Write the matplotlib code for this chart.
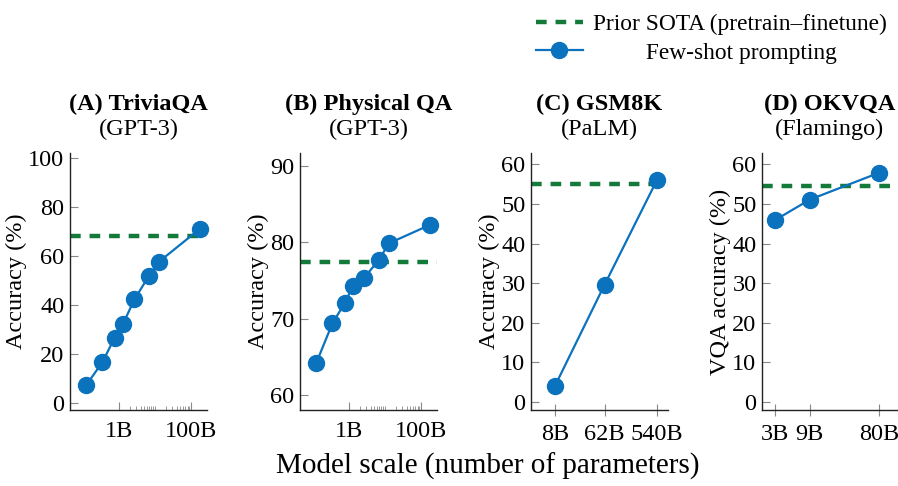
import matplotlib
matplotlib.use("Agg")
import matplotlib.pyplot as plt
from matplotlib.ticker import FixedLocator, NullFormatter

plt.rcParams['font.family'] = ['Liberation Serif', 'DejaVu Serif']
plt.rcParams['mathtext.fontset'] = 'stix'

# model sizes in billions of parameters
gpt3_sizes = [0.125, 0.35, 0.76, 1.3, 2.7, 6.7, 13, 175]
palm_sizes = [8, 62, 540]
flamingo_sizes = [3, 9, 80]

triviaqa_acc = [7.2, 16.6, 26.5, 32.2, 42.2, 51.7, 57.6, 71.0]
triviaqa_sota = 68.0
physqa_acc = [64.2, 69.4, 72.0, 74.3, 75.4, 77.7, 79.9, 82.3]
physqa_sota = 77.5
gsm8k_acc = [4.0, 29.6, 56.1]
gsm8k_sota = 55.1
okvqa_acc = [45.9, 51.1, 57.9]
okvqa_sota = 54.6

titles = ["(A) TriviaQA", "(B) Physical QA", "(C) GSM8K", "(D) OKVQA"]
subtitles = ["(GPT-3)", "(GPT-3)", "(PaLM)", "(Flamingo)"]
ylabels = ["Accuracy (%)", "Accuracy (%)", "Accuracy (%)", "VQA accuracy (%)"]

BLUE = '#0b72bd'
GREEN = '#137a3a'
FS = 17.5
DASH = (0, (2.4, 2.0))

fig = plt.figure(figsize=(8.98, 4.86), dpi=100)
W, H = 898, 486

def make_ax(x0, x1, y0=153, y1=410):
    return fig.add_axes([x0 / W, 1 - y1 / H, (x1 - x0) / W, (y1 - y0) / H])

axes = [make_ax(70, 207), make_ax(300, 437), make_ax(531, 668), make_ax(762, 897)]

panels = [
    (gpt3_sizes, triviaqa_acc, triviaqa_sota, (0.044, 277), (-3, 102), [0, 20, 40, 60, 80, 100]),
    (gpt3_sizes, physqa_acc, physqa_sota, (0.044, 277), (58.0, 91.75), [60, 70, 80, 90]),
    (palm_sizes, gsm8k_acc, gsm8k_sota, (2.97, 849), (-2.1, 62.9), [0, 10, 20, 30, 40, 50, 60]),
    (flamingo_sizes, okvqa_acc, okvqa_sota, (2.0, 141), (-2.1, 62.9), [0, 10, 20, 30, 40, 50, 60]),
]

for i, (ax, (xs, ys, sota, xl, yl, yt)) in enumerate(zip(axes, panels)):
    ax.set_xscale('log')
    ax.axhline(sota, color=GREEN, lw=3.2, ls=DASH, zorder=2, clip_on=False)
    ax.plot(xs, ys, '-o', color=BLUE, lw=1.6, ms=11.5, zorder=3, clip_on=False)
    ax.set_xlim(*xl)
    ax.set_ylim(*yl)
    ax.set_yticks(yt)
    ax.tick_params(axis='y', direction='in', length=6, color='#888888', labelsize=FS, pad=4)
    if i < 2:
        ax.xaxis.set_major_locator(FixedLocator([1, 100]))
        ax.set_xticklabels(['1B', '100B'])
        minors = [m for m in range(2, 10)] + [m * 10 for m in range(1, 10)]
        ax.xaxis.set_minor_locator(FixedLocator(minors))
        ax.xaxis.set_minor_formatter(NullFormatter())
        ax.tick_params(axis='x', which='major', direction='in', length=6, color='#888888', labelsize=FS, pad=8)
        ax.tick_params(axis='x', which='minor', direction='in', length=3, color='#888888')
    else:
        ax.xaxis.set_major_locator(FixedLocator(xs))
        ax.set_xticklabels([f"{s}B" for s in xs])
        ax.xaxis.set_minor_locator(FixedLocator([]))
        ax.tick_params(axis='x', which='major', direction='inout', length=8, color='#888888', labelsize=FS, pad=6)
    for s in ['top', 'right']:
        ax.spines[s].set_visible(False)
    for s in ['left', 'bottom']:
        ax.spines[s].set_color('#222222')
        ax.spines[s].set_linewidth(1.0)
    ax.set_ylabel(ylabels[i], fontsize=FS, labelpad=1)
    ax.text(0.5, 1.19, titles[i], transform=ax.transAxes, ha='center', va='center',
            fontsize=FS, fontweight='bold')
    ax.text(0.5, 1.093, subtitles[i], transform=ax.transAxes, ha='center', va='center',
            fontsize=FS)

fig.text(0.543, 0.041, "Model scale (number of parameters)", ha='center', va='center', fontsize=21)

h1, = axes[0].plot([], [], color=GREEN, lw=3.2, ls=DASH)
h2, = axes[0].plot([], [], '-o', color=BLUE, lw=1.6, ms=11.5)
fig.legend([h1, h2], ["Prior SOTA (pretrain\u2013finetune)", "         Few-shot prompting"],
           loc='upper left', bbox_to_anchor=(522 / W, 1.0), frameon=False, fontsize=16.8,
           handlelength=2.0, handletextpad=0.45, labelspacing=0.3, borderaxespad=0.2)

fig.savefig("out.png", dpi=100)
